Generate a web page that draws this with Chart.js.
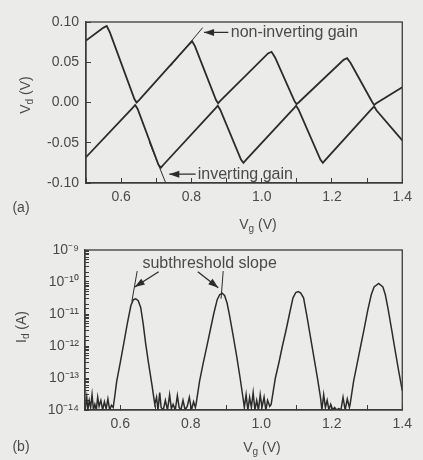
<!DOCTYPE html>
<html>
<head>
<meta charset="utf-8">
<script src="https://cdn.jsdelivr.net/npm/chart.js@4.4.1/dist/chart.umd.min.js"></script>
<style>
    body { margin: 0; background: #ebebe9; font-family: "Liberation Sans", Arial, sans-serif; color: #4a4a4a; }
    #wrap { position: relative; width: 423px; height: 460px; overflow: hidden; }
    canvas { position: absolute; left: 0; }
    .lbl { position: absolute; font-size: 14px; white-space: nowrap; transform: translate(-50%, -50%); }
    .rot { transform: translate(-50%, -50%) rotate(-90deg); }
    sub { font-size: 10px; vertical-align: -3px; line-height: 0; }
</style>
</head>
<body>
<div id="wrap">
    <canvas id="chartA" width="423" height="230" style="top:0"></canvas>
    <canvas id="chartB" width="423" height="230" style="top:230px"></canvas>
    <div class="lbl" style="left:21px;top:207px">(a)</div>
    <div class="lbl" style="left:21px;top:446px">(b)</div>
    <div class="lbl rot" style="left:25px;top:95px">V<sub>d</sub> (V)</div>
    <div class="lbl rot" style="left:21px;top:327px">I<sub>d</sub> (A)</div>
    <div class="lbl" style="left:258px;top:224px">V<sub>g</sub> (V)</div>
    <div class="lbl" style="left:262px;top:447px">V<sub>g</sub> (V)</div>
</div>
<script>
// ---- panel (a): drain voltage vs gate voltage ----
const vgUpper = [0.500, 0.550, 0.559, 0.568, 0.638, 0.644, 0.651, 0.795, 0.802, 0.810, 0.870, 0.876, 0.882,
    1.018, 1.028, 1.038, 1.093, 1.099, 1.105, 1.233, 1.243, 1.253, 1.314, 1.320, 1.326, 1.400];
const vdUpper = [0.077, 0.093, 0.095, 0.087, 0.004, 0.000, 0.003, 0.073, 0.076, 0.070, 0.003, -0.001, 0.002,
    0.061, 0.063, 0.056, 0.002, -0.002, 0.000, 0.053, 0.055, 0.049, 0.001, -0.003, -0.001, 0.019];

const vgLower = [0.500, 0.632, 0.640, 0.647, 0.706, 0.713, 0.721, 0.869, 0.875, 0.882, 0.941, 0.948, 0.956,
    1.092, 1.098, 1.105, 1.167, 1.174, 1.182, 1.313, 1.320, 1.327, 1.400];
const vdLower = [-0.068, -0.007, -0.003, -0.008, -0.077, -0.081, -0.077, -0.007, -0.004, -0.009, -0.071, -0.075, -0.071,
    -0.007, -0.004, -0.009, -0.071, -0.075, -0.071, -0.008, -0.005, -0.010, -0.047];

// tangent lines and arrows for the gain notes
const nonInvTangentX = [0.740, 0.832];
const nonInvTangentY = [0.045, 0.093];
const invTangentX = [0.680, 0.727];
const invTangentY = [-0.049, -0.100];
const nonInvArrowX = [0.905, 0.836];
const nonInvArrowY = [0.087, 0.087];
const invArrowX = [0.812, 0.737];
const invArrowY = [-0.089, -0.089];

const vdTicks = [-0.10, -0.05, 0.00, 0.05, 0.10];

// ---- panel (b): drain current (log) vs gate voltage ----
const vgCurrent = [
    0.500, 0.505, 0.508, 0.512, 0.516, 0.520, 0.524, 0.528, 0.532, 0.536, 0.540, 0.545, 0.550, 0.555, 0.560, 0.565, 0.570, 0.575, 0.580,
    0.585, 0.590, 0.600, 0.610, 0.620, 0.630, 0.637, 0.644, 0.651, 0.658, 0.665, 0.672, 0.680, 0.690, 0.698,
    0.703, 0.707, 0.712, 0.716, 0.722, 0.728, 0.734, 0.740, 0.745, 0.750, 0.756, 0.762, 0.767, 0.772, 0.778, 0.784, 0.790, 0.796, 0.802, 0.808, 0.813,
    0.815, 0.825, 0.835, 0.845, 0.855, 0.865, 0.875, 0.882, 0.889, 0.896, 0.903, 0.910, 0.920, 0.930, 0.940, 0.948,
    0.952, 0.957, 0.962, 0.967, 0.972, 0.977, 0.982, 0.987, 0.992, 0.997, 1.002, 1.008, 1.013, 1.018, 1.024,
    1.028, 1.040, 1.050, 1.060, 1.070, 1.080, 1.090, 1.098, 1.105, 1.112, 1.120, 1.130, 1.140, 1.150, 1.160, 1.168,
    1.172, 1.177, 1.182, 1.187, 1.192, 1.197, 1.203, 1.208, 1.214, 1.220, 1.226, 1.232, 1.238, 1.244, 1.250,
    1.252, 1.262, 1.272, 1.282, 1.292, 1.302, 1.312, 1.320, 1.333, 1.345, 1.352, 1.360, 1.370, 1.380, 1.390, 1.400
];
const idCurrent = [
    1e-14, 2.5e-14, 1e-14, 2e-14, 1.2e-14, 3e-14, 1e-14, 1.5e-14, 1e-14, 2.5e-14, 1.3e-14, 2e-14, 1e-14, 1.8e-14, 1.1e-14, 2.2e-14, 1e-14, 1.4e-14, 1.2e-14,
    3e-14, 8e-14, 3e-13, 1.2e-12, 5e-12, 1.8e-11, 2.8e-11, 3e-11, 2.6e-11, 1.6e-11, 5e-12, 1.2e-12, 3e-13, 6e-14, 1.5e-14,
    2.5e-14, 1e-14, 3.5e-14, 1.2e-14, 1e-14, 2e-14, 1e-14, 3e-14, 1.1e-14, 1.5e-14, 1e-14, 2.8e-14, 1.2e-14, 1e-14, 2e-14, 1e-14, 1.3e-14, 2.5e-14, 1e-14, 1.8e-14, 1.2e-14,
    1.5e-14, 8e-14, 2.8e-13, 9e-13, 3e-12, 1e-11, 2.8e-11, 4e-11, 4.5e-11, 3.8e-11, 2.2e-11, 9e-12, 2.2e-12, 5e-13, 1e-13, 2.5e-14,
    1.2e-14, 3e-14, 1e-14, 2.5e-14, 1.2e-14, 3.5e-14, 1e-14, 2e-14, 1e-14, 3e-14, 1.2e-14, 2.5e-14, 1e-14, 2e-14, 1.3e-14,
    1.5e-14, 1e-13, 3e-13, 1e-12, 3e-12, 1e-11, 3.2e-11, 4.7e-11, 5e-11, 4.5e-11, 3.2e-11, 8e-12, 1.8e-12, 4e-13, 9e-14, 2.5e-14,
    1e-14, 3e-14, 1.2e-14, 2e-14, 1e-14, 1.5e-14, 1e-14, 1.2e-14, 1e-14, 1.1e-14, 1e-14, 2.5e-14, 1e-14, 2.2e-14, 1.2e-14,
    1.5e-14, 8e-14, 2.8e-13, 1e-12, 3.5e-12, 1.3e-11, 4e-11, 7e-11, 9e-11, 7e-11, 4e-11, 1.4e-11, 3.2e-12, 7e-13, 1.6e-13, 4e-14
];

const slopeLeftX = [0.633, 0.648];
const slopeLeftY = [2.5e-11, 2.2e-10];
const slopeRightX = [0.886, 0.892];
const slopeRightY = [3e-11, 2.2e-10];
const slopeArrowLeftX = [0.709, 0.641];
const slopeArrowLeftY = [2.1e-10, 7e-11];
const slopeArrowRightX = [0.820, 0.878];
const slopeArrowRightY = [2.1e-10, 6.6e-11];

const INK = '#2c2c2c';
const TEXT = '#4a4a4a';
const AXIS = '#3c3c3c';
const TICK_FONT = { family: '"Liberation Sans", Arial, sans-serif', size: 14 };

const zip = (xs, ys) => xs.map((x, i) => ({ x, y: ys[i] }));

function line(xs, ys, width, extra = {}) {
    return {
        data: zip(xs, ys),
        borderColor: INK,
        borderWidth: width,
        pointRadius: 0,
        fill: false,
        tension: 0,
        ...extra
    };
}

const SUP = { '-': '\u207B', '0': '\u2070', '1': '\u00B9', '2': '\u00B2', '3': '\u00B3', '4': '\u2074',
    '5': '\u2075', '6': '\u2076', '7': '\u2077', '8': '\u2078', '9': '\u2079' };
const sup = n => String(n).split('').map(c => SUP[c]).join('');

// box around the plot area, notes and arrow heads
const framePlugin = {
    id: 'frame',
    afterDraw(chart) {
        const { ctx, chartArea: a } = chart;
        ctx.save();
        ctx.strokeStyle = AXIS;
        ctx.lineWidth = 1.3;
        ctx.strokeRect(a.left, a.top, a.right - a.left, a.bottom - a.top);
        ctx.restore();
    }
};

const arrowPlugin = {
    id: 'arrowHeads',
    afterDatasetsDraw(chart) {
        const ctx = chart.ctx;
        chart.data.datasets.forEach((ds, i) => {
            if (!ds.arrowHead) return;
            const pts = chart.getDatasetMeta(i).data;
            const a = pts[pts.length - 2], b = pts[pts.length - 1];
            const ang = Math.atan2(b.y - a.y, b.x - a.x);
            ctx.save();
            ctx.translate(b.x, b.y);
            ctx.rotate(ang);
            ctx.beginPath();
            ctx.moveTo(0, 0);
            ctx.lineTo(-10, -3.5);
            ctx.lineTo(-10, 3.5);
            ctx.closePath();
            ctx.fillStyle = INK;
            ctx.fill();
            ctx.restore();
        });
    }
};

const notesPlugin = {
    id: 'notes',
    afterDatasetsDraw(chart, args, opts) {
        const { ctx, scales: { x, y } } = chart;
        ctx.save();
        ctx.font = '16px "Liberation Sans", Arial, sans-serif';
        ctx.fillStyle = TEXT;
        ctx.textBaseline = 'middle';
        ctx.textAlign = 'left';
        (opts.items || []).forEach(n => {
            ctx.fillText(n.text, x.getPixelForValue(n.x), y.getPixelForValue(n.y));
        });
        ctx.restore();
    }
};

function xAxis(height) {
    return {
        type: 'linear',
        min: 0.5,
        max: 1.4,
        ticks: {
            stepSize: 0.1,
            autoSkip: false,
            maxRotation: 0,
            padding: 11,
            color: TEXT,
            font: TICK_FONT,
            callback: v => {
                const k = Math.round(v * 10);
                return k % 2 === 0 ? (k / 10).toFixed(1) : '';
            }
        },
        grid: { drawOnChartArea: false, tickLength: -5, color: AXIS, lineWidth: 1 },
        border: { color: AXIS, width: 1.3 },
        afterFit: s => { s.height = height; }
    };
}

function baseOptions(padTop, padRight, xHeight, yScale, notes) {
    return {
        responsive: false,
        animation: false,
        layout: { padding: { top: padTop, right: padRight, left: 0, bottom: 0 } },
        plugins: {
            legend: { display: false },
            tooltip: { enabled: false },
            notes: { items: notes }
        },
        scales: { x: xAxis(xHeight), y: yScale }
    };
}

new Chart(document.getElementById('chartA'), {
    type: 'line',
    data: {
        datasets: [
            line(vgUpper, vdUpper, 1.8),
            line(vgLower, vdLower, 1.8),
            line(nonInvTangentX, nonInvTangentY, 1),
            line(invTangentX, invTangentY, 1),
            line(nonInvArrowX, nonInvArrowY, 1.3, { arrowHead: true }),
            line(invArrowX, invArrowY, 1.3, { arrowHead: true })
        ]
    },
    options: baseOptions(22, 12, 47, {
        type: 'linear',
        min: -0.10,
        max: 0.10,
        afterBuildTicks: s => { s.ticks = vdTicks.map(v => ({ value: v })); },
        ticks: { padding: 12, color: TEXT, font: TICK_FONT, callback: v => v.toFixed(2) },
        grid: { drawOnChartArea: false, tickLength: -5, color: AXIS },
        border: { color: AXIS, width: 1.3 },
        afterFit: s => { s.width = 86; }
    }, [
        { text: 'non-inverting gain', x: 0.912, y: 0.087 },
        { text: 'inverting gain', x: 0.818, y: -0.089 }
    ]),
    plugins: [framePlugin, arrowPlugin, notesPlugin]
});

new Chart(document.getElementById('chartB'), {
    type: 'line',
    data: {
        datasets: [
            line(vgCurrent, idCurrent, 1.5),
            line(slopeLeftX, slopeLeftY, 1),
            line(slopeRightX, slopeRightY, 1),
            line(slopeArrowLeftX, slopeArrowLeftY, 1.3, { arrowHead: true }),
            line(slopeArrowRightX, slopeArrowRightY, 1.3, { arrowHead: true })
        ]
    },
    options: baseOptions(20, 13, 50, {
        type: 'logarithmic',
        min: 1e-14,
        max: 1e-9,
        ticks: {
            autoSkip: false,
            padding: 10,
            color: TEXT,
            font: TICK_FONT,
            callback: v => {
                const e = Math.log10(v);
                return Math.abs(e - Math.round(e)) < 1e-6 ? '10' + sup(Math.round(e)) : '';
            }
        },
        grid: { drawOnChartArea: false, tickLength: -4, color: AXIS },
        border: { color: AXIS, width: 1.3 },
        afterFit: s => { s.width = 85; }
    }, [
        { text: 'subthreshold slope', x: 0.663, y: 3.8e-10 }
    ]),
    plugins: [framePlugin, arrowPlugin, notesPlugin]
});
</script>
</body>
</html>
